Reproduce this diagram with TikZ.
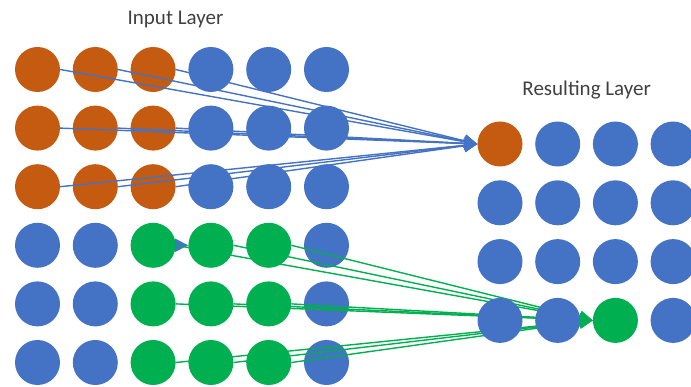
\documentclass[tikz,border=0pt]{standalone}
\usepackage{fontspec}
\setmainfont{Carlito}
\usetikzlibrary{arrows.meta}
\definecolor{inorange}{HTML}{C55A11}
\definecolor{inblue}{HTML}{4472C4}
\definecolor{ingreen}{HTML}{00B050}
\definecolor{labelgray}{HTML}{404040}
\pgfdeclarelayer{dots}
\pgfdeclarelayer{links}
\pgfsetlayers{dots,links,main}
\begin{document}
\begin{tikzpicture}[x=1pt,y=-1pt,
    dot/.style={circle,inner sep=0pt,minimum size=45pt},
    od/.style={dot,fill=inorange},
    bd/.style={dot,fill=inblue},
    gd/.style={dot,fill=ingreen},
    title/.style={text=labelgray,font=\fontsize{21}{25}\selectfont,anchor=base},
    link/.style={-{Triangle[length=13pt,width=13pt]},line width=1.4pt}]
      \useasboundingbox (0,0) rectangle (691,387);
      \node[title] (intitle) at (175.5,25) {Input Layer};
      \node[title] (restitle) at (586.7,96) {Resulting Layer};
      % input layer, 6 x 6
      \begin{pgfonlayer}{dots}
      \draw
        (37.5,69.5) node[od] (i11){}
        (95.3,69.5) node[od] (i12){}
        (153.1,69.5) node[od] (i13){}
        (210.9,69.5) node[bd] (i14){}
        (268.7,69.5) node[bd] (i15){}
        (326.5,69.5) node[bd] (i16){}
        (37.5,128.1) node[od] (i21){}
        (95.3,128.1) node[od] (i22){}
        (153.1,128.1) node[od] (i23){}
        (210.9,128.1) node[bd] (i24){}
        (268.7,128.1) node[bd] (i25){}
        (326.5,128.1) node[bd] (i26){}
        (37.5,186.7) node[od] (i31){}
        (95.3,186.7) node[od] (i32){}
        (153.1,186.7) node[od] (i33){}
        (210.9,186.7) node[bd] (i34){}
        (268.7,186.7) node[bd] (i35){}
        (326.5,186.7) node[bd] (i36){}
        (37.5,245.3) node[bd] (i41){}
        (95.3,245.3) node[bd] (i42){}
        (153.1,245.3) node[gd] (i43){}
        (210.9,245.3) node[gd] (i44){}
        (268.7,245.3) node[gd] (i45){}
        (326.5,245.3) node[bd] (i46){}
        (37.5,303.9) node[bd] (i51){}
        (95.3,303.9) node[bd] (i52){}
        (153.1,303.9) node[gd] (i53){}
        (210.9,303.9) node[gd] (i54){}
        (268.7,303.9) node[gd] (i55){}
        (326.5,303.9) node[bd] (i56){}
        (37.5,362.5) node[bd] (i61){}
        (95.3,362.5) node[bd] (i62){}
        (153.1,362.5) node[gd] (i63){}
        (210.9,362.5) node[gd] (i64){}
        (268.7,362.5) node[gd] (i65){}
        (326.5,362.5) node[bd] (i66){};
      \end{pgfonlayer}
      % resulting layer, 4 x 4
      \draw
        (500,144) node[od] (r11){}
        (557.7,144) node[bd] (r12){}
        (615.4,144) node[bd] (r13){}
        (673.1,144) node[bd] (r14){}
        (500,202.8) node[bd] (r21){}
        (557.7,202.8) node[bd] (r22){}
        (615.4,202.8) node[bd] (r23){}
        (673.1,202.8) node[bd] (r24){}
        (500,261.6) node[bd] (r31){}
        (557.7,261.6) node[bd] (r32){}
        (615.4,261.6) node[bd] (r33){}
        (673.1,261.6) node[bd] (r34){}
        (500,320.4) node[bd] (r41){}
        (557.7,320.4) node[bd] (r42){}
        (615.4,320.4) node[gd] (r43){}
        (673.1,320.4) node[bd] (r44){};
      \begin{pgfonlayer}{links}
      \begin{scope}[link,draw=inblue]
        \draw (i43.east) to (i44.west);
        \draw (i11.east) to (r11.west);
        \draw (i12.east) to (r11.west);
        \draw (i13.east) to (r11.west);
        \draw (i21.east) to (r11.west);
        \draw (i22.east) to (r11.west);
        \draw (i23.east) to (r11.west);
        \draw (i31.east) to (r11.west);
        \draw (i32.east) to (r11.west);
        \draw (i33.east) to (r11.west);
      \end{scope}
      \begin{scope}[link,draw=ingreen]
        \draw (i43.east) to (r43.west);
        \draw (i44.east) to (r43.west);
        \draw (i45.east) to (r43.west);
        \draw (i53.east) to (r43.west);
        \draw (i54.east) to (r43.west);
        \draw (i55.east) to (r43.west);
        \draw (i63.east) to (r43.west);
        \draw (i64.east) to (r43.west);
        \draw (i65.east) to (r43.west);
      \end{scope}
      \end{pgfonlayer}
    \end{tikzpicture}
\end{document}
